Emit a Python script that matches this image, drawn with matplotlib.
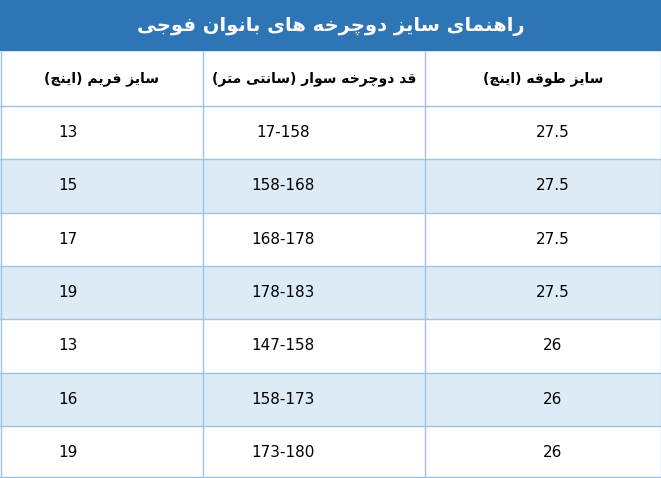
import matplotlib
matplotlib.use("Agg")
import matplotlib.pyplot as plt
from matplotlib.patches import Rectangle

title = "راهنمای سایز دوچرخه های بانوان فوجی"
headers = ["سایز فریم (اینچ)", "قد دوچرخه سوار (سانتی متر)", "سایز طوقه (اینچ)"]
frame_size = ["13", "15", "17", "19", "13", "16", "19"]
rider_height = ["17-158", "158-168", "168-178", "178-183", "147-158", "158-173", "173-180"]
wheel_size = ["27.5", "27.5", "27.5", "27.5", "26", "26", "26"]

FORMS = {  # iso, final, initial, medial
    'ا': ('\uFE8D', '\uFE8E', None, None), 'ب': ('\uFE8F', '\uFE90', '\uFE91', '\uFE92'),
    'ت': ('\uFE95', '\uFE96', '\uFE97', '\uFE98'), 'ج': ('\uFE9D', '\uFE9E', '\uFE9F', '\uFEA0'),
    'چ': ('\uFB7A', '\uFB7B', '\uFB7C', '\uFB7D'), 'خ': ('\uFEA5', '\uFEA6', '\uFEA7', '\uFEA8'),
    'د': ('\uFEA9', '\uFEAA', None, None), 'ر': ('\uFEAD', '\uFEAE', None, None),
    'ز': ('\uFEAF', '\uFEB0', None, None), 'س': ('\uFEB1', '\uFEB2', '\uFEB3', '\uFEB4'),
    'ط': ('\uFEC1', '\uFEC2', '\uFEC3', '\uFEC4'), 'ف': ('\uFED1', '\uFED2', '\uFED3', '\uFED4'),
    'ق': ('\uFED5', '\uFED6', '\uFED7', '\uFED8'), 'م': ('\uFEE1', '\uFEE2', '\uFEE3', '\uFEE4'),
    'ن': ('\uFEE5', '\uFEE6', '\uFEE7', '\uFEE8'), 'ه': ('\uFEE9', '\uFEEA', '\uFEEB', '\uFEEC'),
    'و': ('\uFEED', '\uFEEE', None, None), 'ی': ('\uFBFC', '\uFBFD', '\uFBFE', '\uFBFF'),
}

def joins_next(c):
    return c in FORMS and FORMS[c][2] is not None

def shape(s):
    out = []
    for i, c in enumerate(s):
        if c not in FORMS:
            out.append(c); continue
        prev = s[i-1] if i > 0 else ''
        nxt = s[i+1] if i < len(s)-1 else ''
        jp = joins_next(prev)
        jn = joins_next(c) and nxt in FORMS
        f = FORMS[c]
        if jp and jn: g = f[3]
        elif jp: g = f[1]
        elif jn: g = f[2]
        else: g = f[0]
        out.append(g)
    r = ''.join(out)[::-1]
    return r.translate(str.maketrans('()', ')('))

W, H = 661, 478
fig = plt.figure(figsize=(W/100, H/100), dpi=100)
ax = fig.add_axes([0, 0, 1, 1])
ax.set_xlim(0, W); ax.set_ylim(H, 0); ax.axis('off')

blue = '#2e75b6'; light = '#ddebf7'; line = '#9dc3e6'
ax.add_patch(Rectangle((0, 0), W, 50, color=blue))
ax.text(W/2, 26, shape(title), color='white', fontsize=14, fontweight='bold',
        ha='center', va='center', family=['DejaVu Sans'])
top = 52; hh = 54; rh = 53.3
cols = [0, 203, 425, W]
for j, h in enumerate(headers):
    ax.text((cols[j]+cols[j+1])/2, top+hh/2, shape(h), fontsize=10, fontweight='bold',
            ha='center', va='center', family=['DejaVu Sans'])
for i in range(len(frame_size)):
    y0 = top + hh + i*rh
    if i % 2 == 1:
        ax.add_patch(Rectangle((0, y0), W, rh, color=light, lw=0))
    ax.plot([0, W], [y0, y0], color=line, lw=1)
    yc = y0 + rh/2
    ax.text(68, yc, frame_size[i], fontsize=11, ha='center', va='center')
    ax.text(283, yc, rider_height[i], fontsize=11, ha='center', va='center')
    ax.text(553, yc, wheel_size[i], fontsize=11, ha='center', va='center')
ax.plot([0, W], [H-1, H-1], color=line, lw=1)
for x in cols[1:3]:
    ax.plot([x, x], [top, H], color=line, lw=1)
ax.plot([0.5, 0.5], [top, H], color=line, lw=1)
ax.plot([W-0.5, W-0.5], [top, H], color=line, lw=1)
fig.savefig('out.png', dpi=100)
